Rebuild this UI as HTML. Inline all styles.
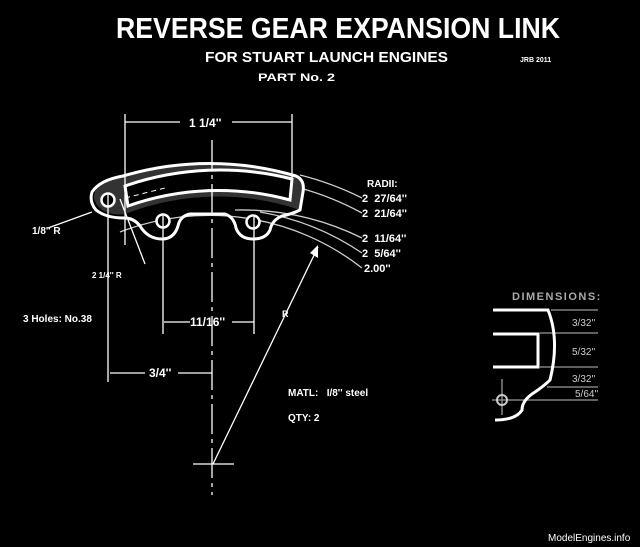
<!DOCTYPE html>
<html><head><meta charset="utf-8"><style>
html,body{margin:0;padding:0;background:#000;}
svg{display:block;font-family:"Liberation Sans",Arial,sans-serif;}
</style></head><body>
<svg width="640" height="547" viewBox="0 0 640 547" xmlns="http://www.w3.org/2000/svg">
<rect width="640" height="547" fill="#000"/>
<g fill="#fff" font-weight="bold">
<text x="116" y="38" font-size="29" textLength="444" lengthAdjust="spacingAndGlyphs">REVERSE GEAR EXPANSION LINK</text>
<text x="205" y="62" font-size="15" textLength="243" lengthAdjust="spacingAndGlyphs">FOR STUART LAUNCH ENGINES</text>
<text x="258" y="81" font-size="11" textLength="77" lengthAdjust="spacingAndGlyphs">PART No. 2</text>
<text x="520" y="62" font-size="7">JRB 2011</text>
</g>
<g fill="none" stroke="#ccc" stroke-width="1.3">
<path d="M 300,175 A 306 306 0 0 1 362,198"/>
<path d="M 300,188 A 293 293 0 0 1 362,213"/>
<path d="M 235,210 A 272 272 0 0 1 362,238"/>
<path d="M 260,212 A 260 260 0 0 1 362,253"/>
<path d="M 120,232 A 248 248 0 0 1 362,268"/>
</g>
<path d="M 123,176 A 305 305 0 0 1 296,176 Q 305,180 303,192 L 300,210 A 256 256 0 0 0 125,214 Q 112,216 102,210 Q 90,200 96,190 Q 104,180 123,176 Z" fill="#333"/>
<path d="M 123,176 A 305 305 0 0 1 296,176 Q 305,180 303,192 L 300,210 Q 292,214 282,216 Q 272,220 270,230 Q 266,239 253,239 Q 240,239 236,228 Q 234,217 225,214 L 190,214 Q 180,216 178,226 Q 174,239 162,239 Q 148,239 140,226 Q 134,218 124,218 Q 106,218 96,210 Q 89,202 92,192 Q 100,180 123,176 Z" fill="none" stroke="#fff" stroke-width="3"/>
<path d="M 125,186 A 292 292 0 0 1 292,179 L 290,200 A 272 272 0 0 0 128,206 Z" fill="#000" stroke="#fff" stroke-width="3"/>
<line x1="125" y1="198" x2="165" y2="188" stroke="#fff" stroke-width="1" stroke-dasharray="5,4"/>
<g fill="#000" stroke="#fff" stroke-width="2.5">
<circle cx="108" cy="200" r="6.5"/><circle cx="163" cy="221" r="6.5"/><circle cx="253" cy="222" r="6.5"/>
</g>
<g stroke="#fff" stroke-width="1.3" fill="none">
<line x1="125" y1="114" x2="125" y2="245"/><line x1="292" y1="114" x2="292" y2="180"/>
<line x1="125" y1="122" x2="180" y2="122"/><line x1="232" y1="122" x2="292" y2="122"/>
<line x1="212" y1="140" x2="212" y2="495" stroke-dasharray="30,5,4,5"/>
<line x1="108" y1="195" x2="108" y2="382"/><line x1="163" y1="216" x2="163" y2="334"/><line x1="254" y1="217" x2="254" y2="334"/>
<line x1="164" y1="322" x2="190" y2="322"/><line x1="232" y1="322" x2="254" y2="322"/>
<line x1="110" y1="373" x2="145" y2="373"/><line x1="178" y1="373" x2="212" y2="373"/>
<line x1="213" y1="464" x2="318" y2="247"/>
<line x1="193" y1="464" x2="234" y2="464"/>
<line x1="48" y1="228" x2="92" y2="212"/>
<line x1="120" y1="199" x2="145" y2="264"/>
</g>
<path d="M 318,245 L 318,258 L 310,253 Z" fill="#fff"/>
<g fill="#fff" font-weight="bold">
<text x="189" y="127" font-size="12">1 1/4''</text>
<text x="190" y="326" font-size="12">11/16''</text>
<text x="149" y="377" font-size="12">3/4''</text>
<text x="282" y="317" font-size="9">R</text>
<text x="32" y="234" font-size="10">1/8'' R</text>
<text x="92" y="278" font-size="8">2 1/4'' R</text>
<text x="23" y="322" font-size="10">3 Holes: No.38</text>
<text x="288" y="396" font-size="10">MATL:&#160;&#160;&#160;I/8'' steel</text>
<text x="288" y="421" font-size="10">QTY: 2</text>
<text x="367" y="187" font-size="10">RADII:</text>
<text x="362" y="202" font-size="11">2&#160;&#160;27/64''</text>
<text x="362" y="217" font-size="11">2&#160;&#160;21/64''</text>
<text x="362" y="242" font-size="11">2&#160;&#160;11/64''</text>
<text x="362" y="257" font-size="11">2&#160;&#160;5/64''</text>
<text x="364" y="272" font-size="11">2.00''</text>
<text x="548" y="541" font-size="10" font-weight="normal">ModelEngines.info</text>
</g>
<text x="512" y="300" font-size="11" font-weight="bold" fill="#aaa" letter-spacing="1.5">DIMENSIONS:</text>
<g stroke="#999" stroke-width="1.3">
<line x1="551" y1="310" x2="598" y2="310"/><line x1="540" y1="333" x2="598" y2="333"/>
<line x1="540" y1="367" x2="598" y2="367"/><line x1="547" y1="387" x2="598" y2="387"/>
<line x1="492" y1="400" x2="598" y2="400"/>
<line x1="502" y1="379" x2="502" y2="415"/>
</g>
<g fill="none" stroke="#fff" stroke-width="3">
<path d="M 493,310 L 548,310 Q 560,340 550,380 Q 544,386 535,392 Q 522,400 522,410 Q 516,420 495,420"/>
<path d="M 493,334 L 538,334 L 538,367 L 493,367"/>
</g>
<circle cx="502" cy="400" r="5" fill="none" stroke="#ccc" stroke-width="2"/>
<g fill="#ccc" font-size="10">
<text x="572" y="326">3/32''</text><text x="572" y="355">5/32''</text>
<text x="572" y="382">3/32''</text><text x="575" y="397">5/64''</text>
</g>
</svg>
</body></html>
